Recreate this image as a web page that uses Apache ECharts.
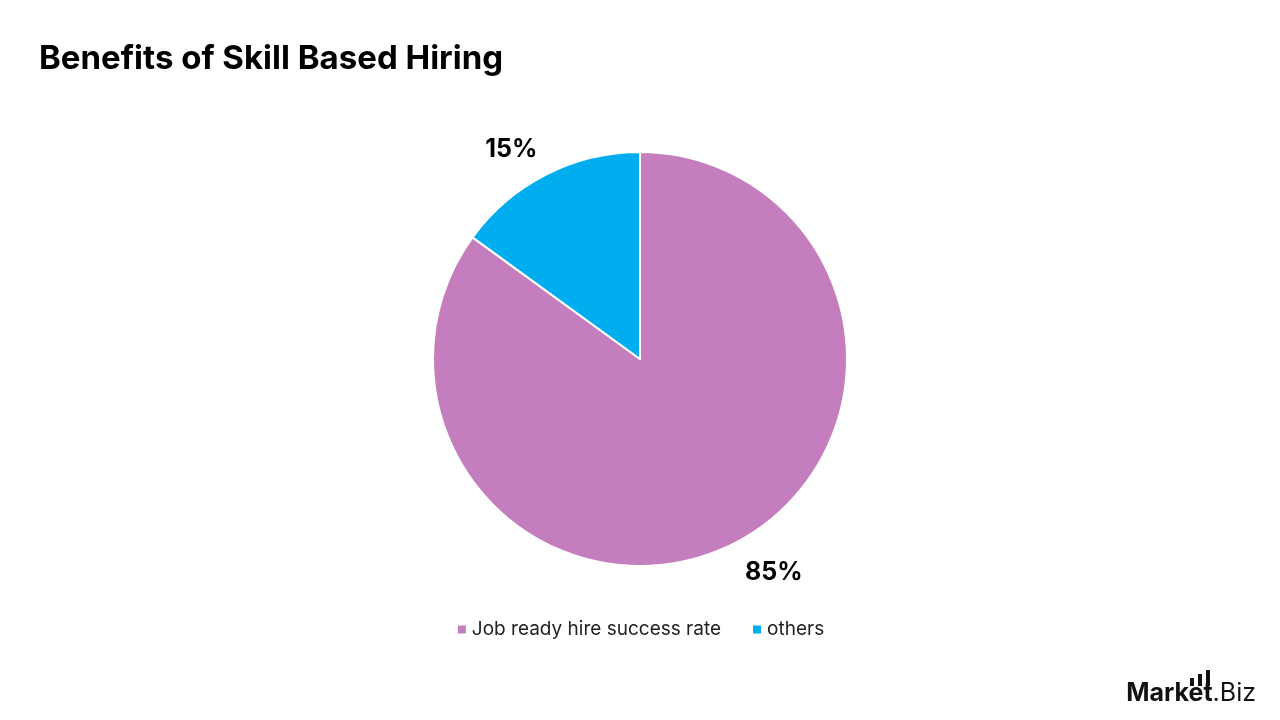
<!DOCTYPE html>
<html>
<head>
<meta charset="utf-8">
<script src="https://cdn.jsdelivr.net/npm/echarts@6/dist/echarts.min.js"></script>
<style>
  html, body { margin: 0; padding: 0; background: #fff; }
  #chart { width: 1280px; height: 720px; }
</style>
</head>
<body>
<div id="chart"></div>
<script>
// chart data
const categories = ["Job ready hire success rate", "others"];
const shares = [85, 15];
const sliceColors = ["#C47EBD", "#00AEEF"];

const myChart = echarts.init(document.getElementById("chart"));

// the small top slice sits its label a bit closer to the pie
const lineLengths = [33, 28];

const opts = {
  backgroundColor: "#fff",
  title: {
    text: "Benefits of Skill Based Hiring",
    left: 34,
    top: 38,
    textStyle: { fontFamily: "Inter", fontWeight: "bold", fontSize: 33, color: "#000" }
  },
  legend: {
    bottom: 76,
    left: "center",
    icon: "rect",
    itemWidth: 10,
    itemHeight: 10,
    itemGap: 30,
    textStyle: { fontFamily: "Inter", fontSize: 19, color: "#222" },
    data: categories
  },
  color: sliceColors,
  series: [
    {
      type: "pie",
      center: [640, 359],
      radius: 207,
      startAngle: 90,
      clockwise: true,
      data: categories.map((name, i) => ({
        name: name,
        value: shares[i],
        labelLine: { show: false, length: lineLengths[i], length2: 0 }
      })),
      itemStyle: { borderColor: "#fff", borderWidth: 2 },
      label: {
        show: true,
        position: "outside",
        formatter: "{c}%",
        distanceToLabelLine: -4,
        fontFamily: "Inter",
        fontWeight: "bold",
        fontSize: 25,
        color: "#000"
      },
      labelLine: { show: false, length: 33, length2: 0 },
      emphasis: { disabled: true }
    }
  ],
  graphic: [
    {
      type: "text",
      right: 24,
      bottom: 14,
      style: {
        text: "{a|Market}{b|.Biz}",
        rich: {
          a: { fontFamily: "Inter", fontWeight: "bold", fontSize: 25, fill: "#111" },
          b: { fontFamily: "Inter", fontSize: 25, fill: "#111" }
        }
      }
    },
    { type: "rect", shape: { x: 1190, y: 678, width: 4, height: 8 }, style: { fill: "#111" } },
    { type: "rect", shape: { x: 1198, y: 674, width: 4, height: 12 }, style: { fill: "#111" } },
    { type: "rect", shape: { x: 1206, y: 670, width: 4, height: 16 }, style: { fill: "#111" } }
  ]
};

myChart.setOption(opts);
</script>
</body>
</html>
